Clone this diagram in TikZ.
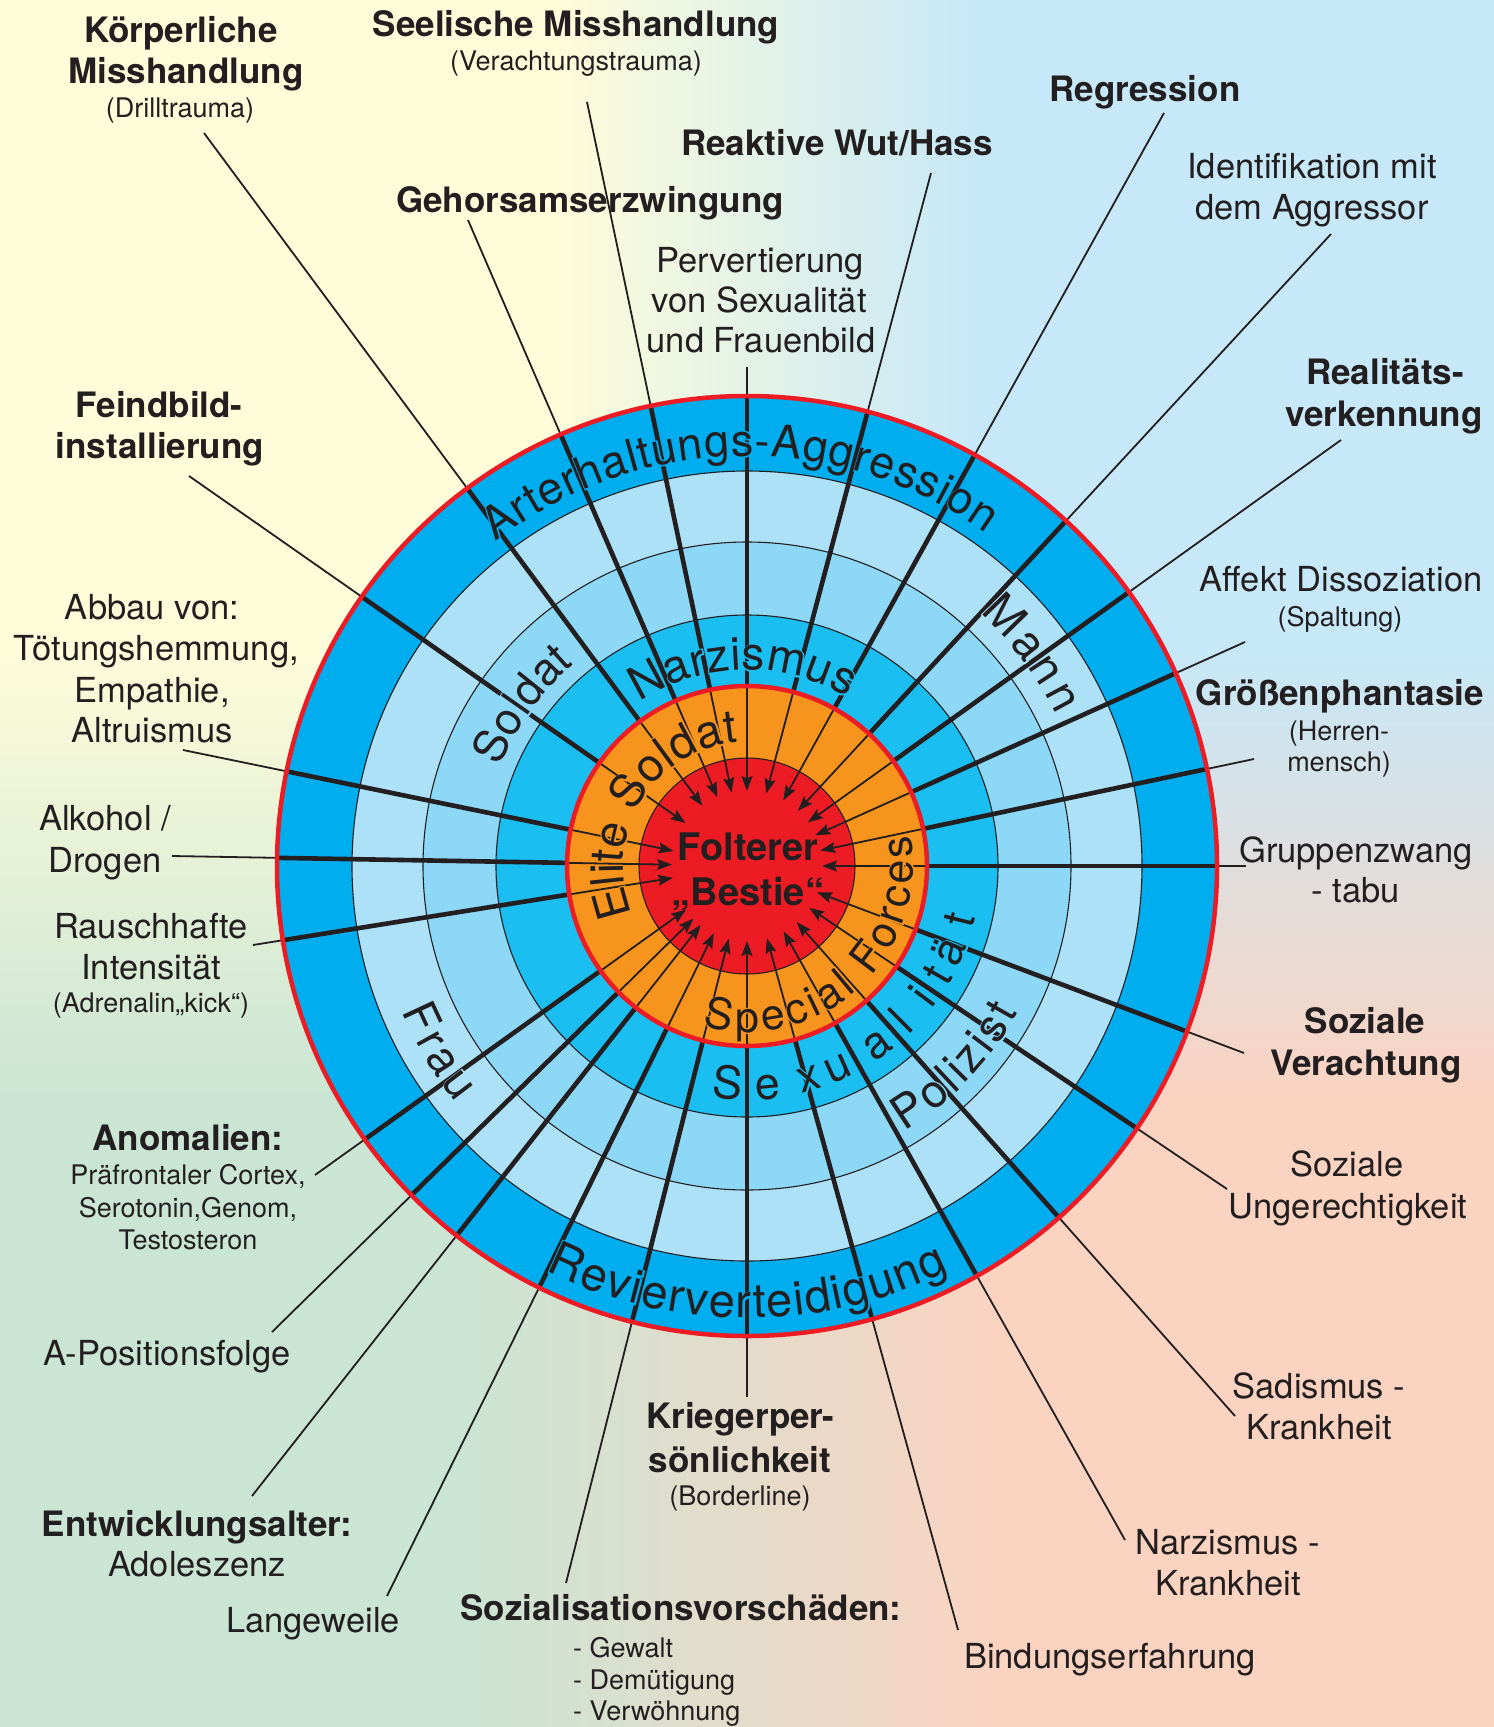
\documentclass[tikz,border=0pt]{standalone}
\usepackage{fontspec}
\setmainfont{TeX Gyre Heros}
\newfontfamily\halofont[FakeBold=6]{TeX Gyre Heros}
\usetikzlibrary{calc,decorations.text,arrows.meta}
\definecolor{ink}{HTML}{231F20}
\definecolor{cA}{HTML}{00AEEF}
\definecolor{cB}{HTML}{ADE1F8}
\definecolor{cC}{HTML}{8DD7F7}
\definecolor{cD}{HTML}{1ABEF0}
\definecolor{corange}{HTML}{F7941D}
\definecolor{cred}{HTML}{ED1C24}
\definecolor{bgY}{HTML}{FEFCD9}
\definecolor{bgB}{HTML}{C6E8F8}
\definecolor{bgG}{HTML}{CAE5D4}
\definecolor{bgS}{HTML}{FBD3C1}
\tikzset{
  lb/.style={anchor=base, inner sep=0pt, text=ink, font=\fontsize{35}{40}\selectfont\bfseries},
  ln/.style={anchor=base, inner sep=0pt, text=ink, font=\fontsize{34.5}{40}\selectfont},
  ls/.style={anchor=base, inner sep=0pt, text=ink, font=\fontsize{27}{32}\selectfont},
  ctr/.style={anchor=base, inner sep=0pt, text=ink, font=\fontsize{38}{44}\selectfont\bfseries},
  ringl/.style={anchor=base, inner sep=0pt, font=\fontsize{45}{45}\selectfont},
  ringh/.style={anchor=base, inner sep=0pt, font=\halofont\fontsize{45}{45}\selectfont},
  thinln/.style={draw=ink, line width=1.8pt},
  spokeln/.style={draw=ink, line width=4.6pt},
  arrln/.style={draw=ink, line width=1.8pt, -{Stealth[length=15pt,width=11pt,inset=2.5pt]}},
  ringedge/.style={draw=ink, line width=1.1pt},
  rededge/.style={draw=cred, line width=4.5pt}
}
% #1 radius, #2 start angle, #3 end angle, #4 halo colour, #5 font size, #6 text
\newcommand\ringtxt[6]{%
  \path[decorate, decoration={text along path, text align=fit to path,
      text={|\halofont\fontsize{#5}{#5}\selectfont\color{#4}|#6}}] (#2:#1) arc[start angle=#2, end angle=#3, radius=#1];
  \path[decorate, decoration={text along path, text align=fit to path,
      text={|\fontsize{#5}{#5}\selectfont\color{ink}|#6}}] (#2:#1) arc[start angle=#2, end angle=#3, radius=#1];
}
% #1 angle, #2 radius, #3 letter, #4 name
\newcommand\hletter[4]{%
  \node[ringh, text=cD, rotate=#1+90] (#4h) at (#1:#2) {#3};
  \node[ringl, text=ink, rotate=#1+90] (#4) at (#1:#2) {#3};
}
\begin{document}
\begin{tikzpicture}[x=1pt,y=1pt]
\useasboundingbox (0,0) rectangle (1494,-1727);
% background
\fill[bgY] (0,0) rectangle (554,-651);
\shade[left color=bgY,right color=bgB] (553,0) rectangle (981,-651);
\fill[bgB] (980,0) rectangle (1494,-651);
\shade[top color=bgY,bottom color=bgG] (0,-650) rectangle (748,-1101);
\shade[top color=bgB,bottom color=bgS] (747,-650) rectangle (1494,-1101);
\fill[bgG] (0,-1100) rectangle (451,-1727);
\shade[left color=bgG,right color=bgS] (450,-1100) rectangle (1001,-1727);
\fill[bgS] (1000,-1100) rectangle (1494,-1727);

\coordinate (C) at (747,-866);
% rings
\fill[cA] (C) circle[radius=470];
\fill[cB] (C) circle[radius=395];
\fill[cC] (C) circle[radius=324];
\fill[cD] (C) circle[radius=251];
\fill[corange] (C) circle[radius=180];
\fill[cred] (C) circle[radius=108];
\foreach \r in {395,324,251,108} \draw[ringedge] (C) circle[radius=\r];

% label nodes
\node[lb] (k1) at (181,-42) {Körperliche};
\node[lb] (k2) at (186,-83) {Misshandlung};
\node[ls] (k3) at (180,-117) {(Drilltrauma)};
\node[lb] (se1) at (576,-36) {Seelische Misshandlung};
\node[ls] (se2) at (576,-70) {(Verachtungstrauma)};
\node[lb] (rw) at (837,-155) {Reaktive Wut/Hass};
\node[lb] (gh) at (590,-212) {Gehorsamserzwingung};
\node[ln] (pv1) at (760,-272) {Pervertierung};
\node[ln] (pv2) at (759,-312) {von Sexualität};
\node[ln] (pv3) at (761,-352) {und Frauenbild};
\node[lb] (rg) at (1145,-101) {Regression};
\node[ln] (id1) at (1312,-178) {Identifikation mit};
\node[ln] (id2) at (1312,-219) {dem Aggressor};
\node[lb] (rv1) at (1385,-384) {Realitäts-};
\node[lb] (rv2) at (1384,-426) {verkennung};
\node[ln] (af1) at (1341,-591) {Affekt Dissoziation};
\node[ls] (af2) at (1340,-626) {(Spaltung)};
\node[lb] (gp1) at (1340,-705) {Größenphantasie};
\node[ls] (gp2) at (1339,-740) {(Herren-};
\node[ls] (gp3) at (1339,-771) {mensch)};
\node[ln] (gz1) at (1356,-862) {Gruppenzwang};
\node[ln] (gz2) at (1356,-902) {- tabu};
\node[lb] (sv1) at (1365,-1033) {Soziale};
\node[lb] (sv2) at (1366,-1075) {Verachtung};
\node[ln] (su1) at (1347,-1176) {Soziale};
\node[ln] (su2) at (1348,-1218) {Ungerechtigkeit};
\node[ln] (sd1) at (1319,-1398) {Sadismus -};
\node[ln] (sd2) at (1319,-1439) {Krankheit};
\node[ln] (nz1) at (1228,-1554) {Narzismus -};
\node[ln] (nz2) at (1228,-1595) {Krankheit};
\node[ln] (bd) at (1110,-1668) {Bindungserfahrung};
\node[lb] (kr1) at (740,-1428) {Kriegerper-};
\node[lb] (kr2) at (740,-1472) {sönlichkeit};
\node[ls] (kr3) at (740,-1505) {(Borderline)};
\node[lb] (sz) at (681,-1620) {Sozialisationsvorschäden:};
\node[ls,anchor=base west] (sz1) at (573,-1657) {- Gewalt};
\node[ls,anchor=base west] (sz2) at (573,-1689) {- Demütigung};
\node[ls,anchor=base west] (sz3) at (573,-1720) {- Verwöhnung};
\node[ln] (lw) at (313,-1632) {Langeweile};
\node[lb] (ew1) at (197,-1536) {Entwicklungsalter:};
\node[ln] (ew2) at (197,-1576) {Adoleszenz};
\node[ln] (ap) at (167,-1365) {A-Positionsfolge};
\node[lb] (an1) at (188,-1150) {Anomalien:};
\node[ls] (an2) at (188,-1184) {Präfrontaler Cortex,};
\node[ls] (an3) at (188,-1217) {Serotonin,Genom,};
\node[ls] (an4) at (188,-1249) {Testosteron};
\node[ln] (ri1) at (151,-938) {Rauschhafte};
\node[ln] (ri2) at (151,-979) {Intensität};
\node[ls] (ri3) at (151,-1012) {(Adrenalin„kick“)};
\node[ln] (ak1) at (105,-830) {Alkohol /};
\node[ln] (ak2) at (105,-872) {Drogen};
\node[ln] (ab1) at (152,-619) {Abbau von:};
\node[ln] (ab2) at (156,-660) {Tötungshemmung,};
\node[ln] (ab3) at (152,-702) {Empathie,};
\node[ln] (ab4) at (152,-742) {Altruismus};
\node[lb] (fb1) at (159,-417) {Feindbild-};
\node[lb] (fb2) at (160,-458) {installierung};

% label-side ends of the spokes
\coordinate (e01) at (747,-367);
\coordinate (e02) at (931,-173);
\coordinate (e03) at (1164,-113);
\coordinate (e04) at (1331,-234);
\coordinate (e05) at (1341,-440);
\coordinate (e06) at (1245,-642);
\coordinate (e07) at (1254,-759);
\coordinate (e08) at (1246,-866);
\coordinate (e09) at (1244,-1053);
\coordinate (e10) at (1227,-1189);
\coordinate (e11) at (1235,-1416);
\coordinate (e12) at (1125,-1540);
\coordinate (e13) at (958,-1630);
\coordinate (e14) at (747,-1397);
\coordinate (e15) at (566,-1583);
\coordinate (e16) at (387,-1596);
\coordinate (e17) at (252,-1496);
\coordinate (e18) at (272,-1332);
\coordinate (e19) at (315,-1175);
\coordinate (e20) at (253,-945);
\coordinate (e21) at (172,-856);
\coordinate (e22) at (183,-750);
\coordinate (e23) at (189,-476);
\coordinate (e24) at (204,-133);
\coordinate (e25) at (468,-220);
\coordinate (e26) at (587,-102);

\foreach \spk in {e01,e02,e03,e04,e05,e06,e07,e08,e09,e10,e11,e12,e13,e14,e15,e16,e17,e18,e19,e20,e21,e22,e23,e24,e25,e26}{
  \draw[thinln] (\spk) -- ($(C)!470pt!(\spk)$);
  \draw[spokeln] ($(C)!468pt!(\spk)$) -- ($(C)!180pt!(\spk)$);
  \draw[arrln] ($(C)!180pt!(\spk)$) -- ($(C)!75pt!(\spk)$);
}

% ring texts
\begin{scope}[shift={(C)}]
\ringtxt{410}{127.8}{54.3}{cA}{45}{Arterhaltungs-Aggression}
\ringtxt{452}{-116.5}{-63.5}{cA}{47}{Revierverteidigung}
\ringtxt{196}{123.2}{59.2}{cD}{46}{Narzismus}
\ringtxt{266}{158}{130.5}{cC}{45}{Soldat}
\ringtxt{308}{-59.3}{-28.4}{cC}{46}{Polizist}
\ringtxt{344}{47.4}{26.1}{cB}{46}{Mann}
\ringtxt{375}{-157.2}{-140.8}{cB}{46}{Frau}
\ringtxt{124}{202.7}{94}{corange}{46}{Elite Soldat}
\ringtxt{166}{-105.4}{10.8}{corange}{43}{Special Forces}
\hletter{-95.1}{234}{S}{sx1}
\hletter{-84.6}{234}{e}{sx2}
\hletter{-73.8}{234}{x}{sx3}
\hletter{-65.8}{234}{u}{sx4}
\hletter{-54.1}{234}{a}{sx5}
\hletter{-45.2}{234}{l}{sx6}
\hletter{-36.7}{234}{i}{sx7}
\hletter{-29.6}{234}{t}{sx8}
\hletter{-22.9}{234}{ä}{sx9}
\hletter{-14.1}{234}{t}{sx10}
\end{scope}

% red rims
\draw[rededge] (C) circle[radius=470];
\draw[rededge] (C) circle[radius=180];

% centre
\node[ctr] (fo1) at (748,-860) {Folterer};
\node[ctr] (fo2) at (748,-905) {„Bestie“};
\end{tikzpicture}
\end{document}
